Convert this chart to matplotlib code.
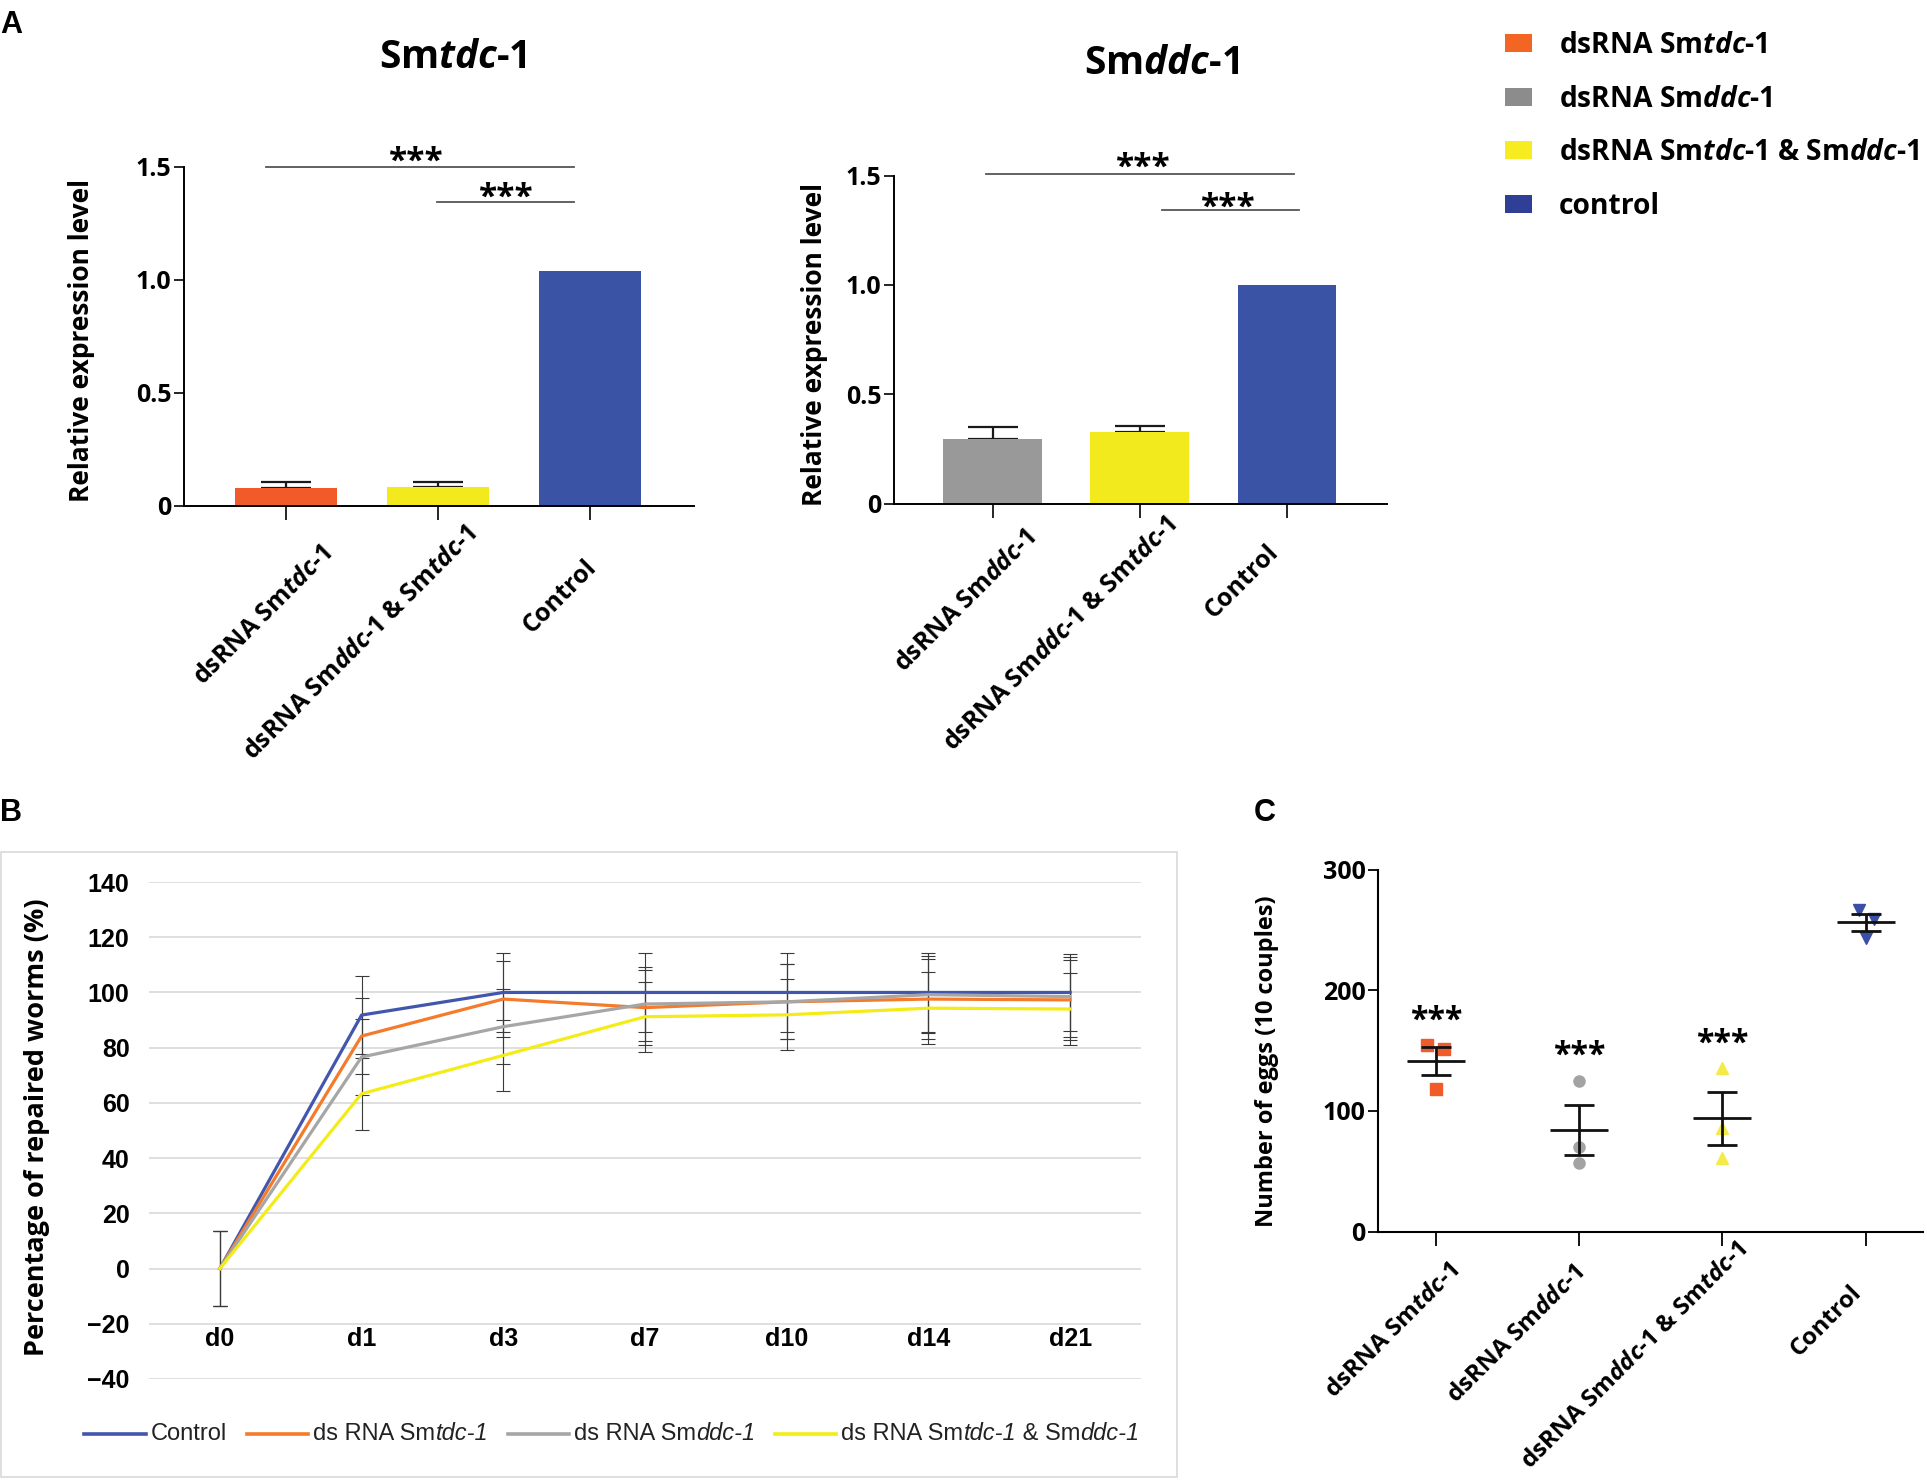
import numpy as np
import matplotlib
matplotlib.use('Agg')
import matplotlib.pyplot as plt
import matplotlib.transforms as mtransforms
from matplotlib.patches import Patch, Rectangle
from matplotlib.lines import Line2D
from matplotlib.offsetbox import HPacker, TextArea, DrawingArea, AnchoredOffsetbox

plt.rcParams['font.family'] = ['Open Sans', 'DejaVu Sans']
plt.rcParams['font.weight'] = 'bold'
plt.rcParams['mathtext.fontset'] = 'custom'
plt.rcParams['mathtext.rm'] = 'Open Sans:bold'
plt.rcParams['mathtext.it'] = 'Open Sans:italic:bold'
plt.rcParams['mathtext.bf'] = 'Open Sans:bold'

# ---------------- data ----------------
# Panel A (left): Smtdc-1 expression
a1_labels = ['dsRNA Sm$\\mathit{tdc}$-$\\mathit{1}$',
             'dsRNA Sm$\\mathit{ddc}$-$\\mathit{1}$ & Sm$\\mathit{tdc}$-$\\mathit{1}$',
             'Control']
a1_values = [0.08, 0.085, 1.04]
a1_errors = [0.025, 0.02]
# Panel A (right): Smddc-1 expression
a2_labels = ['dsRNA Sm$\\mathit{ddc}$-$\\mathit{1}$',
             'dsRNA Sm$\\mathit{ddc}$-$\\mathit{1}$ & Sm$\\mathit{tdc}$-$\\mathit{1}$',
             'Control']
a2_values = [0.295, 0.327, 1.0]
a2_errors = [0.057, 0.029]

# Panel B: percentage of repaired worms
days = ['d0', 'd1', 'd3', 'd7', 'd10', 'd14', 'd21']
b_control = [0, 91.8, 100, 100, 100, 100, 100]
b_tdc = [0, 84.2, 97.6, 94.5, 96.6, 97.6, 97.3]
b_ddc = [0, 76.6, 87.6, 95.8, 96.6, 99.2, 98.5]
b_both = [0, 63.3, 77.2, 91.2, 91.9, 94.3, 94.0]
b_control_err = [13.5, 14.0, 14.2, 14.2, 14.2, 14.2, 14.0]
b_tdc_err = [13.5, 13.7, 13.7, 13.7, 13.6, 14.5, 14.5]
b_ddc_err = [13.5, 13.7, 13.6, 13.5, 13.6, 14.0, 14.5]
b_both_err = [13.5, 13.0, 13.0, 12.7, 12.9, 13.0, 13.0]

# Panel C: number of eggs
c_labels = ['dsRNA Sm$\\mathit{tdc}$-$\\mathit{1}$',
            'dsRNA Sm$\\mathit{ddc}$-$\\mathit{1}$',
            'dsRNA Sm$\\mathit{ddc}$-$\\mathit{1}$ & Sm$\\mathit{tdc}$-$\\mathit{1}$',
            'Control']
c_tdc = [154.2, 151.2, 118.5]
c_ddc = [125.1, 70.4, 56.6]
c_both = [135.4, 85.6, 60.7]
c_control = [266.4, 259.3, 243.0]
c_significant = [True, True, True, False]

# ---------------- style ----------------
ORANGE = '#F15A29'
GRAY = '#999999'
YELLOW = '#F2EA1C'
BLUE = '#3A53A4'
NARROW = ['Liberation Sans Narrow', 'Liberation Sans', 'DejaVu Sans']

W, H = 1927, 1484
fig = plt.figure(figsize=(W / 100, H / 100), dpi=100)


def fx(px):
    return px / W


def fy(px):
    return 1 - px / H


def shift_labels(ax, offsets):
    for lab, (dx, dy) in zip(ax.get_xticklabels(), offsets):
        off = mtransforms.ScaledTranslation(dx / 100, dy / 100, fig.dpi_scale_trans)
        lab.set_transform(lab.get_transform() + off)


def bar_panel(rect, labels, values, errors, colors, sig, title, title_xy, ylab_x):
    ax = fig.add_axes(rect)
    x = np.arange(len(values))
    ax.bar(x, values, width=0.67, color=colors, zorder=2)
    ne = len(errors)
    ax.errorbar(x[:ne], values[:ne], yerr=[np.zeros(ne), errors], fmt='none',
                ecolor='#1a1a1a', elinewidth=1.6, capsize=18, capthick=1.6, zorder=1)
    ax.set_xlim(-0.67, 2.68)
    ax.set_ylim(0, 1.5)
    ax.set_yticks([0, 0.5, 1.0, 1.5])
    ax.set_yticklabels(['0', '0.5', '1.0', '1.5'])
    ax.set_xticks(x)
    ax.set_xticklabels(labels, rotation=45, ha='right', va='top', rotation_mode='anchor', fontsize=18)
    for s in ['top', 'right']:
        ax.spines[s].set_visible(False)
    for s in ['left', 'bottom']:
        ax.spines[s].set_linewidth(1.4)
    ax.tick_params(axis='y', length=7, width=1.2, labelsize=18, pad=2)
    ax.tick_params(axis='x', length=10, width=1.2, pad=2)
    for (x0, x1, yl, xs, ys) in sig:
        ax.plot([x0, x1], [yl, yl], color='#555555', lw=1.3, clip_on=False)
        ax.annotate('***', (xs, ys), xytext=(0, -14), textcoords='offset points',
                    ha='center', va='baseline', fontsize=24, annotation_clip=False)
    fig.text(title_xy[0], title_xy[1], title, ha='center', va='center', fontsize=28)
    fig.text(ylab_x, rect[1] + rect[3] / 2 - 0.003, 'Relative expression level', rotation=90,
             ha='center', va='center', fontsize=19)
    return ax


axA1 = bar_panel([fx(184), fy(505.7), fx(694) - fx(184), fy(167) - fy(505.7)],
                 a1_labels, a1_values, a1_errors, [ORANGE, YELLOW, BLUE],
                 [(-0.13, 1.895, 1.502, 0.857, 1.571), (0.995, 1.895, 1.344, 1.448, 1.41)],
                 'Sm$\\mathit{tdc}$-$\\mathit{1}$', (fx(453), fy(58)), fx(82))
shift_labels(axA1, [(34, -19), (26, 1), (-7, -32)])
axA2 = bar_panel([fx(894), fy(503.8), fx(1387) - fx(894), fy(175.6) - fy(503.8)],
                 a2_labels, a2_values, a2_errors, [GRAY, YELLOW, BLUE],
                 [(-0.045, 2.045, 1.506, 1.027, 1.585), (1.15, 2.08, 1.343, 1.6, 1.40)],
                 'Sm$\\mathit{ddc}$-$\\mathit{1}$', (fx(1162), fy(63)), fx(814))
shift_labels(axA2, [(31, -5), (25, 8), (-21, -19)])

# legend top right
leg_handles = [Patch(facecolor='#F26522'), Patch(facecolor='#8C8C8C'),
               Patch(facecolor='#F7EC1F'), Patch(facecolor='#2E3F95')]
leg_labels = ['dsRNA Sm$\\mathit{tdc}$-$\\mathit{1}$', 'dsRNA Sm$\\mathit{ddc}$-$\\mathit{1}$',
              'dsRNA Sm$\\mathit{tdc}$-$\\mathit{1}$ & Sm$\\mathit{ddc}$-$\\mathit{1}$', 'control']
fig.legend(leg_handles, leg_labels, loc='upper left', bbox_to_anchor=(fx(1505), fy(31)),
           frameon=False, fontsize=20.3, handlelength=0.95, handleheight=0.6,
           handletextpad=0.95, labelspacing=0.87, borderpad=0, borderaxespad=0)

# ---------------- Panel B ----------------
axB = fig.add_axes([fx(149), fy(1379), fx(1141) - fx(149), fy(882) - fy(1379)])
xb = np.arange(len(days))
series_b = [(b_control, b_control_err, '#4256AE'), (b_tdc, b_tdc_err, '#F47B2C'),
            (b_ddc, b_ddc_err, '#A6A6A6'), (b_both, b_both_err, '#F4EC17')]
for vals, errs, col in series_b:
    axB.errorbar(xb, vals, yerr=errs, color=col, lw=2.3, ecolor='#3a3a3a', elinewidth=0.8,
                 capsize=4.9, capthick=0.8)
axB.set_xlim(-0.5, 6.5)
axB.set_ylim(-40, 140)
axB.set_yticks(np.arange(-40, 141, 20))
axB.grid(axis='y', color='#D9D9D9', lw=1.2)
axB.set_axisbelow(True)
for s in ['top', 'right', 'left']:
    axB.spines[s].set_visible(False)
axB.spines['bottom'].set_position(('data', -20))
axB.spines['bottom'].set_visible(False)
axB.set_xticks(xb)
axB.set_xticklabels(days)
axB.tick_params(axis='both', length=0, labelsize=18)
axB.tick_params(axis='x', pad=2)
axB.tick_params(axis='y', pad=14)
for lab in axB.get_xticklabels() + axB.get_yticklabels():
    lab.set_family(NARROW)
    lab.set_weight('bold')
fig.text(fx(37), fy(1127), 'Percentage of repaired worms (%)', rotation=90,
         ha='center', va='center', fontsize=19.5)
fig.add_artist(Rectangle((fx(1), fy(1477)), fx(1176), fy(852) - fy(1477), transform=fig.transFigure,
                         fill=False, edgecolor='#D9D9D9', lw=1.2))

# custom legend for B (mixed italic text)
tp = dict(family=NARROW, weight='normal', size=17, color='#222222')
tpi = dict(family=NARROW, weight='normal', style='italic', size=17, color='#222222')


def line_handle(col):
    da = DrawingArea(44, 10, 0, 0)
    da.add_artist(Line2D([0, 44], [5, 5], color=col, lw=2.6))
    return da


def entry(col, pieces):
    texts = [TextArea(t, textprops=(tpi if it else tp)) for t, it in pieces]
    return HPacker(children=[line_handle(col), HPacker(children=texts, sep=0, pad=0, align='baseline')],
                   sep=4, pad=0, align='center')


legB = HPacker(children=[
    entry('#4256AE', [('Control', False)]),
    entry('#F47B2C', [('ds RNA Sm', False), ('tdc-1', True)]),
    entry('#A6A6A6', [('ds RNA Sm', False), ('ddc-1', True)]),
    entry('#F4EC17', [('ds RNA Sm', False), ('tdc-1', True), (' & Sm', False), ('ddc-1', True)]),
], sep=14, pad=0, align='center')
fig.add_artist(AnchoredOffsetbox(loc='center', child=legB, frameon=False, pad=0, borderpad=0,
                                 bbox_to_anchor=(fx(612), fy(1434)), bbox_transform=fig.transFigure))

# ---------------- Panel C ----------------
axC = fig.add_axes([fx(1378), fy(1231.5), fx(1923) - fx(1378), fy(869.5) - fy(1231.5)])
c_groups = [(c_tdc, ORANGE, 's', [-0.06, 0.056, 0.0]),
            (c_ddc, '#A3A3A3', 'o', [0.0, 0.0, 0.0]),
            (c_both, '#F4EB4A', '^', [0.0, 0.0, 0.0]),
            (c_control, '#3B4FA6', 'v', [-0.05, 0.06, 0.0])]
for i, (vals, col, mk, jit) in enumerate(c_groups):
    vals = np.array(vals)
    axC.plot(i + np.array(jit), vals, linestyle='none', marker=mk, color=col, markersize=8, zorder=2)
    m = vals.mean()
    sem = vals.std(ddof=1) / np.sqrt(len(vals))
    axC.errorbar([i], [m], yerr=[sem], fmt='_', color='#111111', markersize=42, mew=2.0,
                 elinewidth=2.0, capsize=10.5, capthick=2.0, zorder=3)
    if c_significant[i]:
        axC.annotate('***', (i, vals.max() + 28), xytext=(0, -13), textcoords='offset points',
                     ha='center', va='baseline', fontsize=23)
axC.set_xlim(-0.405, 3.40)
axC.set_ylim(0, 300)
axC.set_yticks([0, 100, 200, 300])
axC.set_xticks(range(len(c_labels)))
axC.set_xticklabels(c_labels, rotation=45, ha='right', va='top', rotation_mode='anchor', fontsize=17.5)
for s in ['top', 'right']:
    axC.spines[s].set_visible(False)
for s in ['left', 'bottom']:
    axC.spines[s].set_linewidth(1.5)
axC.tick_params(axis='y', length=7, width=1.3, labelsize=18, pad=2)
axC.tick_params(axis='x', length=10, width=1.3, pad=2)
shift_labels(axC, [(12, -11), (-6, -13), (13, 10), (-16, -32)])
fig.text(fx(1267), fy(1061), 'Number of eggs (10 couples)', rotation=90, ha='center', va='center',
         fontsize=17)

# panel letters
for txt, x, y in [('A', 0, 10), ('B', 0, 798), ('C', 1254, 798)]:
    fig.text(fx(x), fy(y), txt, ha='left', va='top', fontsize=22, family=['Liberation Sans', 'DejaVu Sans'],
             weight='bold')

fig.savefig('out.png', dpi=100)
